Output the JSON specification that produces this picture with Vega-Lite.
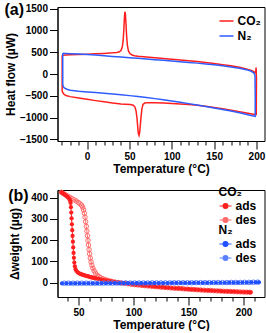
{
  "$schema": "https://vega.github.io/schema/vega-lite/v6.json",
  "padding": {"left": 2.5, "top": 1, "right": 0, "bottom": 0},
  "bounds": "flush",
  "spacing": 49,
  "config": {
    "font": "Liberation Sans",
    "view": {"stroke": "#000", "strokeWidth": 1},
    "axis": {"grid": false, "domainColor": "#000", "tickColor": "#000", "labelColor": "#000", "titleColor": "#000", "labelFontSize": 10, "labelFontWeight": "bold", "titleFontSize": 12, "titleFontWeight": "bold", "labelFlush": false, "labelOverlap": false, "tickWidth": 1, "domainWidth": 1, "labelPadding": 2, "format": "d"},
    "legend": {"labelFontSize": 12, "labelFontWeight": "bold", "titleFontSize": 12, "titleFontWeight": "bold", "labelColor": "#000", "titleColor": "#000", "symbolOpacity": 1}
  },
  "datasets": {
    "dsc": [
      {"gas":"CO₂","i":1,"T":-29.5,"hf":430},{"gas":"CO₂","i":2,"T":-25,"hf":436},{"gas":"CO₂","i":3,"T":-20,"hf":441},{"gas":"CO₂","i":4,"T":-10,"hf":448},{"gas":"CO₂","i":5,"T":0,"hf":455},{"gas":"CO₂","i":6,"T":10,"hf":464},{"gas":"CO₂","i":7,"T":20,"hf":474},{"gas":"CO₂","i":8,"T":30,"hf":486},{"gas":"CO₂","i":9,"T":35,"hf":495},{"gas":"CO₂","i":10,"T":38,"hf":510},{"gas":"CO₂","i":11,"T":40,"hf":540},{"gas":"CO₂","i":12,"T":41.5,"hf":620},{"gas":"CO₂","i":13,"T":42.5,"hf":760},{"gas":"CO₂","i":14,"T":43.3,"hf":1000},{"gas":"CO₂","i":15,"T":44,"hf":1280},{"gas":"CO₂","i":16,"T":44.6,"hf":1430},{"gas":"CO₂","i":17,"T":45.2,"hf":1380},{"gas":"CO₂","i":18,"T":45.9,"hf":1150},{"gas":"CO₂","i":19,"T":46.7,"hf":860},{"gas":"CO₂","i":20,"T":47.6,"hf":650},{"gas":"CO₂","i":21,"T":48.8,"hf":530},{"gas":"CO₂","i":22,"T":50.5,"hf":470},{"gas":"CO₂","i":23,"T":53,"hf":438},{"gas":"CO₂","i":24,"T":56,"hf":420},{"gas":"CO₂","i":25,"T":60,"hf":408},{"gas":"CO₂","i":26,"T":70,"hf":390},{"gas":"CO₂","i":27,"T":80,"hf":372},{"gas":"CO₂","i":28,"T":90,"hf":356},{"gas":"CO₂","i":29,"T":100,"hf":340},{"gas":"CO₂","i":30,"T":110,"hf":324},{"gas":"CO₂","i":31,"T":120,"hf":307},{"gas":"CO₂","i":32,"T":130,"hf":289},{"gas":"CO₂","i":33,"T":140,"hf":265},{"gas":"CO₂","i":34,"T":150,"hf":240},{"gas":"CO₂","i":35,"T":160,"hf":215},{"gas":"CO₂","i":36,"T":170,"hf":187},{"gas":"CO₂","i":37,"T":180,"hf":155},{"gas":"CO₂","i":38,"T":188,"hf":118},{"gas":"CO₂","i":39,"T":194,"hf":82},{"gas":"CO₂","i":40,"T":197.5,"hf":48},{"gas":"CO₂","i":41,"T":199,"hf":25},{"gas":"CO₂","i":42,"T":199.6,"hf":150},{"gas":"CO₂","i":43,"T":200,"hf":-100},{"gas":"CO₂","i":44,"T":199.8,"hf":-930},
      {"gas":"CO₂","i":45,"T":198,"hf":-933},{"gas":"CO₂","i":46,"T":190,"hf":-903},{"gas":"CO₂","i":47,"T":180,"hf":-867},{"gas":"CO₂","i":48,"T":170,"hf":-832},{"gas":"CO₂","i":49,"T":160,"hf":-800},{"gas":"CO₂","i":50,"T":150,"hf":-768},{"gas":"CO₂","i":51,"T":140,"hf":-742},{"gas":"CO₂","i":52,"T":130,"hf":-720},{"gas":"CO₂","i":53,"T":120,"hf":-703},{"gas":"CO₂","i":54,"T":110,"hf":-688},{"gas":"CO₂","i":55,"T":100,"hf":-676},{"gas":"CO₂","i":56,"T":90,"hf":-667},{"gas":"CO₂","i":57,"T":80,"hf":-660},{"gas":"CO₂","i":58,"T":72,"hf":-658},{"gas":"CO₂","i":59,"T":68,"hf":-668},{"gas":"CO₂","i":60,"T":66,"hf":-700},{"gas":"CO₂","i":61,"T":64.8,"hf":-790},{"gas":"CO₂","i":62,"T":63.8,"hf":-960},{"gas":"CO₂","i":63,"T":62.8,"hf":-1180},{"gas":"CO₂","i":64,"T":62,"hf":-1350},{"gas":"CO₂","i":65,"T":61.3,"hf":-1415},{"gas":"CO₂","i":66,"T":60.5,"hf":-1370},{"gas":"CO₂","i":67,"T":59.7,"hf":-1200},{"gas":"CO₂","i":68,"T":58.8,"hf":-1000},{"gas":"CO₂","i":69,"T":57.8,"hf":-850},{"gas":"CO₂","i":70,"T":56.5,"hf":-760},{"gas":"CO₂","i":71,"T":54.5,"hf":-718},{"gas":"CO₂","i":72,"T":51,"hf":-703},{"gas":"CO₂","i":73,"T":45,"hf":-695},{"gas":"CO₂","i":74,"T":40,"hf":-688},{"gas":"CO₂","i":75,"T":30,"hf":-665},{"gas":"CO₂","i":76,"T":20,"hf":-640},{"gas":"CO₂","i":77,"T":10,"hf":-612},{"gas":"CO₂","i":78,"T":0,"hf":-580},{"gas":"CO₂","i":79,"T":-10,"hf":-552},{"gas":"CO₂","i":80,"T":-20,"hf":-520},{"gas":"CO₂","i":81,"T":-25,"hf":-495},{"gas":"CO₂","i":82,"T":-27.5,"hf":-465},{"gas":"CO₂","i":83,"T":-29,"hf":-420},{"gas":"CO₂","i":84,"T":-29.5,"hf":-380},{"gas":"CO₂","i":85,"T":-29.5,"hf":430},
      {"gas":"N₂","i":1,"T":-28.8,"hf":478},{"gas":"N₂","i":2,"T":-25,"hf":474},{"gas":"N₂","i":3,"T":-20,"hf":468},{"gas":"N₂","i":4,"T":-10,"hf":458},{"gas":"N₂","i":5,"T":0,"hf":447},{"gas":"N₂","i":6,"T":10,"hf":434},{"gas":"N₂","i":7,"T":20,"hf":420},{"gas":"N₂","i":8,"T":30,"hf":405},{"gas":"N₂","i":9,"T":40,"hf":390},{"gas":"N₂","i":10,"T":50,"hf":375},{"gas":"N₂","i":11,"T":60,"hf":360},{"gas":"N₂","i":12,"T":70,"hf":345},{"gas":"N₂","i":13,"T":80,"hf":330},{"gas":"N₂","i":14,"T":90,"hf":315},{"gas":"N₂","i":15,"T":100,"hf":300},{"gas":"N₂","i":16,"T":110,"hf":284},{"gas":"N₂","i":17,"T":120,"hf":267},{"gas":"N₂","i":18,"T":130,"hf":250},{"gas":"N₂","i":19,"T":140,"hf":231},{"gas":"N₂","i":20,"T":150,"hf":210},{"gas":"N₂","i":21,"T":160,"hf":188},{"gas":"N₂","i":22,"T":170,"hf":163},{"gas":"N₂","i":23,"T":180,"hf":133},{"gas":"N₂","i":24,"T":188,"hf":100},{"gas":"N₂","i":25,"T":194,"hf":62},{"gas":"N₂","i":26,"T":197,"hf":22},{"gas":"N₂","i":27,"T":198.3,"hf":-30},{"gas":"N₂","i":28,"T":198.6,"hf":-600},{"gas":"N₂","i":29,"T":198.5,"hf":-975},
      {"gas":"N₂","i":30,"T":195,"hf":-960},{"gas":"N₂","i":31,"T":190,"hf":-938},{"gas":"N₂","i":32,"T":180,"hf":-893},{"gas":"N₂","i":33,"T":170,"hf":-852},{"gas":"N₂","i":34,"T":160,"hf":-815},{"gas":"N₂","i":35,"T":150,"hf":-780},{"gas":"N₂","i":36,"T":140,"hf":-746},{"gas":"N₂","i":37,"T":130,"hf":-713},{"gas":"N₂","i":38,"T":120,"hf":-681},{"gas":"N₂","i":39,"T":110,"hf":-650},{"gas":"N₂","i":40,"T":100,"hf":-620},{"gas":"N₂","i":41,"T":90,"hf":-592},{"gas":"N₂","i":42,"T":80,"hf":-566},{"gas":"N₂","i":43,"T":70,"hf":-541},{"gas":"N₂","i":44,"T":60,"hf":-518},{"gas":"N₂","i":45,"T":50,"hf":-497},{"gas":"N₂","i":46,"T":40,"hf":-478},{"gas":"N₂","i":47,"T":30,"hf":-460},{"gas":"N₂","i":48,"T":20,"hf":-444},{"gas":"N₂","i":49,"T":10,"hf":-428},{"gas":"N₂","i":50,"T":0,"hf":-413},{"gas":"N₂","i":51,"T":-10,"hf":-396},{"gas":"N₂","i":52,"T":-20,"hf":-372},{"gas":"N₂","i":53,"T":-24,"hf":-350},{"gas":"N₂","i":54,"T":-27,"hf":-320},{"gas":"N₂","i":55,"T":-28.3,"hf":-285},{"gas":"N₂","i":56,"T":-28.8,"hf":-230},{"gas":"N₂","i":57,"T":-28.8,"hf":478}
    ],
    "tga": [
      {"gas":"CO₂","kind":"ads","T":34.5,"w":425},{"gas":"CO₂","kind":"ads","T":35.5,"w":422},{"gas":"CO₂","kind":"ads","T":36.5,"w":418},{"gas":"CO₂","kind":"ads","T":37.5,"w":414},{"gas":"CO₂","kind":"ads","T":38.5,"w":410},{"gas":"CO₂","kind":"ads","T":39.5,"w":406},{"gas":"CO₂","kind":"ads","T":40.5,"w":401},{"gas":"CO₂","kind":"ads","T":41.5,"w":395},{"gas":"CO₂","kind":"ads","T":42.3,"w":387},{"gas":"CO₂","kind":"ads","T":42.8,"w":375},{"gas":"CO₂","kind":"ads","T":43.1,"w":355},{"gas":"CO₂","kind":"ads","T":43.4,"w":330},{"gas":"CO₂","kind":"ads","T":43.7,"w":303},{"gas":"CO₂","kind":"ads","T":44.0,"w":275},{"gas":"CO₂","kind":"ads","T":44.3,"w":247},{"gas":"CO₂","kind":"ads","T":44.6,"w":220},{"gas":"CO₂","kind":"ads","T":44.9,"w":193},{"gas":"CO₂","kind":"ads","T":45.2,"w":166},{"gas":"CO₂","kind":"ads","T":45.5,"w":140},{"gas":"CO₂","kind":"ads","T":45.8,"w":117},{"gas":"CO₂","kind":"ads","T":46.2,"w":95},{"gas":"CO₂","kind":"ads","T":46.7,"w":77},{"gas":"CO₂","kind":"ads","T":47.3,"w":64},{"gas":"CO₂","kind":"ads","T":48,"w":56},{"gas":"CO₂","kind":"ads","T":49,"w":50},{"gas":"CO₂","kind":"ads","T":50,"w":46},{"gas":"CO₂","kind":"ads","T":51,"w":43},{"gas":"CO₂","kind":"ads","T":52,"w":41},{"gas":"CO₂","kind":"ads","T":53,"w":39},{"gas":"CO₂","kind":"ads","T":54,"w":37},{"gas":"CO₂","kind":"ads","T":55,"w":35.5},{"gas":"CO₂","kind":"ads","T":56,"w":34},{"gas":"CO₂","kind":"ads","T":57,"w":32.5},{"gas":"CO₂","kind":"ads","T":58,"w":31},{"gas":"CO₂","kind":"ads","T":59,"w":29.5},{"gas":"CO₂","kind":"ads","T":60,"w":28},{"gas":"CO₂","kind":"ads","T":61,"w":26.5},{"gas":"CO₂","kind":"ads","T":62,"w":25},{"gas":"CO₂","kind":"ads","T":63,"w":24},{"gas":"CO₂","kind":"ads","T":64,"w":22.5},{"gas":"CO₂","kind":"ads","T":65,"w":21},{"gas":"CO₂","kind":"ads","T":66,"w":20},{"gas":"CO₂","kind":"ads","T":68,"w":18},{"gas":"CO₂","kind":"ads","T":70,"w":15.5},{"gas":"CO₂","kind":"ads","T":72,"w":13.5},{"gas":"CO₂","kind":"ads","T":74,"w":11.5},{"gas":"CO₂","kind":"ads","T":76,"w":9.5},{"gas":"CO₂","kind":"ads","T":78,"w":7.5},{"gas":"CO₂","kind":"ads","T":80,"w":6},{"gas":"CO₂","kind":"ads","T":82,"w":4.5},{"gas":"CO₂","kind":"ads","T":84,"w":3},{"gas":"CO₂","kind":"ads","T":86,"w":1.5},{"gas":"CO₂","kind":"ads","T":88,"w":0},{"gas":"CO₂","kind":"ads","T":90,"w":-1.5},{"gas":"CO₂","kind":"ads","T":93,"w":-3.5},{"gas":"CO₂","kind":"ads","T":96,"w":-5.5},{"gas":"CO₂","kind":"ads","T":99,"w":-7.5},{"gas":"CO₂","kind":"ads","T":102,"w":-9.5},{"gas":"CO₂","kind":"ads","T":105,"w":-11},{"gas":"CO₂","kind":"ads","T":108,"w":-12.5},{"gas":"CO₂","kind":"ads","T":111,"w":-14},{"gas":"CO₂","kind":"ads","T":114,"w":-15.5},{"gas":"CO₂","kind":"ads","T":117,"w":-17},{"gas":"CO₂","kind":"ads","T":120,"w":-18.5},{"gas":"CO₂","kind":"ads","T":123,"w":-20},{"gas":"CO₂","kind":"ads","T":126,"w":-21},{"gas":"CO₂","kind":"ads","T":129,"w":-22.5},{"gas":"CO₂","kind":"ads","T":132,"w":-23.5},{"gas":"CO₂","kind":"ads","T":135,"w":-25},{"gas":"CO₂","kind":"ads","T":138,"w":-26},{"gas":"CO₂","kind":"ads","T":141,"w":-27},{"gas":"CO₂","kind":"ads","T":144,"w":-28},{"gas":"CO₂","kind":"ads","T":147,"w":-29.5},{"gas":"CO₂","kind":"ads","T":150,"w":-30.5},{"gas":"CO₂","kind":"ads","T":153,"w":-31.5},{"gas":"CO₂","kind":"ads","T":156,"w":-32.5},{"gas":"CO₂","kind":"ads","T":159,"w":-33.5},{"gas":"CO₂","kind":"ads","T":162,"w":-34.5},{"gas":"CO₂","kind":"ads","T":165,"w":-35.5},{"gas":"CO₂","kind":"ads","T":168,"w":-36},{"gas":"CO₂","kind":"ads","T":171,"w":-37},{"gas":"CO₂","kind":"ads","T":174,"w":-38},{"gas":"CO₂","kind":"ads","T":177,"w":-38.5},{"gas":"CO₂","kind":"ads","T":180,"w":-39.5},{"gas":"CO₂","kind":"ads","T":183,"w":-40},{"gas":"CO₂","kind":"ads","T":186,"w":-41},{"gas":"CO₂","kind":"ads","T":189,"w":-41.5},{"gas":"CO₂","kind":"ads","T":192,"w":-42},{"gas":"CO₂","kind":"ads","T":195,"w":-43},{"gas":"CO₂","kind":"ads","T":198,"w":-43.5},{"gas":"CO₂","kind":"ads","T":201,"w":-44},{"gas":"CO₂","kind":"ads","T":204,"w":-44.5},{"gas":"CO₂","kind":"ads","T":206.5,"w":-45},
      {"gas":"CO₂","kind":"des","T":34.5,"w":425},{"gas":"CO₂","kind":"des","T":36,"w":420},{"gas":"CO₂","kind":"des","T":38,"w":414},{"gas":"CO₂","kind":"des","T":40,"w":408},{"gas":"CO₂","kind":"des","T":42,"w":402},{"gas":"CO₂","kind":"des","T":44,"w":396},{"gas":"CO₂","kind":"des","T":46,"w":390},{"gas":"CO₂","kind":"des","T":48,"w":384},{"gas":"CO₂","kind":"des","T":50,"w":377},{"gas":"CO₂","kind":"des","T":51.5,"w":371},{"gas":"CO₂","kind":"des","T":52.8,"w":364},{"gas":"CO₂","kind":"des","T":53.8,"w":355},{"gas":"CO₂","kind":"des","T":54.6,"w":343},{"gas":"CO₂","kind":"des","T":55.3,"w":327},{"gas":"CO₂","kind":"des","T":55.9,"w":308},{"gas":"CO₂","kind":"des","T":56.5,"w":287},{"gas":"CO₂","kind":"des","T":57.1,"w":265},{"gas":"CO₂","kind":"des","T":57.6,"w":243},{"gas":"CO₂","kind":"des","T":58.1,"w":221},{"gas":"CO₂","kind":"des","T":58.6,"w":199},{"gas":"CO₂","kind":"des","T":59.1,"w":177},{"gas":"CO₂","kind":"des","T":59.6,"w":156},{"gas":"CO₂","kind":"des","T":60.1,"w":136},{"gas":"CO₂","kind":"des","T":60.7,"w":116},{"gas":"CO₂","kind":"des","T":61.4,"w":98},{"gas":"CO₂","kind":"des","T":62.2,"w":82},{"gas":"CO₂","kind":"des","T":63.1,"w":68},{"gas":"CO₂","kind":"des","T":64.2,"w":56},{"gas":"CO₂","kind":"des","T":65.5,"w":45},{"gas":"CO₂","kind":"des","T":67,"w":36},{"gas":"CO₂","kind":"des","T":68.5,"w":29},{"gas":"CO₂","kind":"des","T":70,"w":24},{"gas":"CO₂","kind":"des","T":72,"w":19},{"gas":"CO₂","kind":"des","T":74,"w":15},{"gas":"CO₂","kind":"des","T":76,"w":12},{"gas":"CO₂","kind":"des","T":78,"w":9},{"gas":"CO₂","kind":"des","T":80,"w":6.5},{"gas":"CO₂","kind":"des","T":83,"w":3.5},{"gas":"CO₂","kind":"des","T":86,"w":1},{"gas":"CO₂","kind":"des","T":89,"w":-1},{"gas":"CO₂","kind":"des","T":92,"w":-3},{"gas":"CO₂","kind":"des","T":95,"w":-5},{"gas":"CO₂","kind":"des","T":98,"w":-7},{"gas":"CO₂","kind":"des","T":101,"w":-9},{"gas":"CO₂","kind":"des","T":104,"w":-10.5},{"gas":"CO₂","kind":"des","T":107,"w":-12},{"gas":"CO₂","kind":"des","T":110,"w":-13.5},{"gas":"CO₂","kind":"des","T":113,"w":-15},{"gas":"CO₂","kind":"des","T":116,"w":-16.5},{"gas":"CO₂","kind":"des","T":119,"w":-18},{"gas":"CO₂","kind":"des","T":122,"w":-19.5},{"gas":"CO₂","kind":"des","T":125,"w":-21},{"gas":"CO₂","kind":"des","T":128,"w":-22},{"gas":"CO₂","kind":"des","T":131,"w":-23},{"gas":"CO₂","kind":"des","T":134,"w":-24.5},{"gas":"CO₂","kind":"des","T":137,"w":-25.5},{"gas":"CO₂","kind":"des","T":140,"w":-26.5},{"gas":"CO₂","kind":"des","T":143,"w":-27.5},{"gas":"CO₂","kind":"des","T":146,"w":-29},{"gas":"CO₂","kind":"des","T":149,"w":-30},{"gas":"CO₂","kind":"des","T":152,"w":-31},{"gas":"CO₂","kind":"des","T":155,"w":-32},{"gas":"CO₂","kind":"des","T":158,"w":-33},{"gas":"CO₂","kind":"des","T":161,"w":-34},{"gas":"CO₂","kind":"des","T":164,"w":-35},{"gas":"CO₂","kind":"des","T":167,"w":-36},{"gas":"CO₂","kind":"des","T":170,"w":-36.5},{"gas":"CO₂","kind":"des","T":173,"w":-37.5},{"gas":"CO₂","kind":"des","T":176,"w":-38.5},{"gas":"CO₂","kind":"des","T":179,"w":-39},{"gas":"CO₂","kind":"des","T":182,"w":-40},{"gas":"CO₂","kind":"des","T":185,"w":-40.5},{"gas":"CO₂","kind":"des","T":188,"w":-41},{"gas":"CO₂","kind":"des","T":191,"w":-42},{"gas":"CO₂","kind":"des","T":194,"w":-42.5},{"gas":"CO₂","kind":"des","T":197,"w":-43},{"gas":"CO₂","kind":"des","T":200,"w":-44},{"gas":"CO₂","kind":"des","T":203,"w":-44.5},{"gas":"CO₂","kind":"des","T":206,"w":-45},
      {"gas":"N₂","kind":"ads","T":35,"w":-3},{"gas":"N₂","kind":"ads","T":39,"w":-3},{"gas":"N₂","kind":"ads","T":43,"w":-3},{"gas":"N₂","kind":"ads","T":47,"w":-3},{"gas":"N₂","kind":"ads","T":51,"w":-3},{"gas":"N₂","kind":"ads","T":55,"w":-3},{"gas":"N₂","kind":"ads","T":59,"w":-3},{"gas":"N₂","kind":"ads","T":63,"w":-3},{"gas":"N₂","kind":"ads","T":67,"w":-3},{"gas":"N₂","kind":"ads","T":71,"w":-2.5},{"gas":"N₂","kind":"ads","T":75,"w":-2.5},{"gas":"N₂","kind":"ads","T":79,"w":-2.5},{"gas":"N₂","kind":"ads","T":83,"w":-2.5},{"gas":"N₂","kind":"ads","T":87,"w":-2.5},{"gas":"N₂","kind":"ads","T":91,"w":-2},{"gas":"N₂","kind":"ads","T":95,"w":-2},{"gas":"N₂","kind":"ads","T":99,"w":-2},{"gas":"N₂","kind":"ads","T":103,"w":-2},{"gas":"N₂","kind":"ads","T":107,"w":-2},{"gas":"N₂","kind":"ads","T":111,"w":-2},{"gas":"N₂","kind":"ads","T":115,"w":-1.5},{"gas":"N₂","kind":"ads","T":119,"w":-1.5},{"gas":"N₂","kind":"ads","T":123,"w":-1.5},{"gas":"N₂","kind":"ads","T":127,"w":-1.5},{"gas":"N₂","kind":"ads","T":131,"w":-1.5},{"gas":"N₂","kind":"ads","T":135,"w":-1},{"gas":"N₂","kind":"ads","T":139,"w":-1},{"gas":"N₂","kind":"ads","T":143,"w":-1},{"gas":"N₂","kind":"ads","T":147,"w":-1},{"gas":"N₂","kind":"ads","T":151,"w":-1},{"gas":"N₂","kind":"ads","T":155,"w":-0.5},{"gas":"N₂","kind":"ads","T":159,"w":-0.5},{"gas":"N₂","kind":"ads","T":163,"w":-0.5},{"gas":"N₂","kind":"ads","T":167,"w":-0.5},{"gas":"N₂","kind":"ads","T":171,"w":0},{"gas":"N₂","kind":"ads","T":175,"w":0},{"gas":"N₂","kind":"ads","T":179,"w":0},{"gas":"N₂","kind":"ads","T":183,"w":0},{"gas":"N₂","kind":"ads","T":187,"w":0.5},{"gas":"N₂","kind":"ads","T":191,"w":0.5},{"gas":"N₂","kind":"ads","T":195,"w":0.5},{"gas":"N₂","kind":"ads","T":199,"w":1},{"gas":"N₂","kind":"ads","T":203,"w":1},{"gas":"N₂","kind":"ads","T":207,"w":1.5},{"gas":"N₂","kind":"ads","T":211,"w":1.5},{"gas":"N₂","kind":"ads","T":214,"w":2},
      {"gas":"N₂","kind":"des","T":37,"w":-2},{"gas":"N₂","kind":"des","T":41,"w":-2},{"gas":"N₂","kind":"des","T":45,"w":-2},{"gas":"N₂","kind":"des","T":49,"w":-2},{"gas":"N₂","kind":"des","T":53,"w":-2},{"gas":"N₂","kind":"des","T":57,"w":-2},{"gas":"N₂","kind":"des","T":61,"w":-2},{"gas":"N₂","kind":"des","T":65,"w":-2},{"gas":"N₂","kind":"des","T":69,"w":-2},{"gas":"N₂","kind":"des","T":73,"w":-1.5},{"gas":"N₂","kind":"des","T":77,"w":-1.5},{"gas":"N₂","kind":"des","T":81,"w":-1.5},{"gas":"N₂","kind":"des","T":85,"w":-1.5},{"gas":"N₂","kind":"des","T":89,"w":-1.5},{"gas":"N₂","kind":"des","T":93,"w":-1},{"gas":"N₂","kind":"des","T":97,"w":-1},{"gas":"N₂","kind":"des","T":101,"w":-1},{"gas":"N₂","kind":"des","T":105,"w":-1},{"gas":"N₂","kind":"des","T":109,"w":-1},{"gas":"N₂","kind":"des","T":113,"w":-1},{"gas":"N₂","kind":"des","T":117,"w":-0.5},{"gas":"N₂","kind":"des","T":121,"w":-0.5},{"gas":"N₂","kind":"des","T":125,"w":-0.5},{"gas":"N₂","kind":"des","T":129,"w":-0.5},{"gas":"N₂","kind":"des","T":133,"w":-0.5},{"gas":"N₂","kind":"des","T":137,"w":0},{"gas":"N₂","kind":"des","T":141,"w":0},{"gas":"N₂","kind":"des","T":145,"w":0},{"gas":"N₂","kind":"des","T":149,"w":0},{"gas":"N₂","kind":"des","T":153,"w":0},{"gas":"N₂","kind":"des","T":157,"w":0.5},{"gas":"N₂","kind":"des","T":161,"w":0.5},{"gas":"N₂","kind":"des","T":165,"w":0.5},{"gas":"N₂","kind":"des","T":169,"w":0.5},{"gas":"N₂","kind":"des","T":173,"w":1},{"gas":"N₂","kind":"des","T":177,"w":1},{"gas":"N₂","kind":"des","T":181,"w":1},{"gas":"N₂","kind":"des","T":185,"w":1},{"gas":"N₂","kind":"des","T":189,"w":1.5},{"gas":"N₂","kind":"des","T":193,"w":1.5},{"gas":"N₂","kind":"des","T":197,"w":1.5},{"gas":"N₂","kind":"des","T":201,"w":2},{"gas":"N₂","kind":"des","T":205,"w":2},{"gas":"N₂","kind":"des","T":209,"w":2.5},{"gas":"N₂","kind":"des","T":213,"w":3}
    ]
  },
  "vconcat": [
    {
      "width": 207,
      "height": 134,
      "data": {"name": "dsc"},
      "layer": [
        {
          "transform": [{"filter": "datum.gas === 'CO₂'"}],
          "mark": {"type": "line", "strokeWidth": 1.5},
          "encoding": {
            "x": {"field": "T", "type": "quantitative", "scale": {"domain": [-35, 209.5], "nice": false, "zero": false}, "axis": {"values": [0, 50, 100, 150, 200], "tickSize": 8, "title": "Temperature (°C)", "titlePadding": 2, "orient": "bottom"}},
            "y": {"field": "hf", "type": "quantitative", "scale": {"domain": [-1540, 1540], "nice": false, "zero": false}, "axis": {"values": [-1500, -1000, -500, 0, 500, 1000, 1500], "tickSize": 8, "title": "Heat flow (µW)", "titleX": -47.5, "titleBaseline": "middle"}},
            "color": {"field": "gas", "type": "nominal", "scale": {"domain": ["CO₂", "N₂"], "range": ["#ff1f1f", "#2e5cff"]}, "legend": {"title": null, "orient": "none", "legendX": 161, "legendY": 6, "padding": 0, "symbolType": "stroke", "symbolSize": 196, "symbolStrokeWidth": 1.5, "rowPadding": 1, "labelOffset": 3}},
            "order": {"field": "i", "type": "quantitative"}
          }
        },
        {
          "transform": [{"filter": "datum.gas === 'N₂'"}],
          "mark": {"type": "line", "strokeWidth": 1.5},
          "encoding": {
            "x": {"field": "T", "type": "quantitative", "scale": {"domain": [-35, 209.5], "nice": false, "zero": false}, "axis": {"values": [-30, -20, -10, 10, 20, 30, 40, 60, 70, 80, 90, 110, 120, 130, 140, 160, 170, 180, 190], "tickSize": 4, "labels": false, "domain": false, "title": null, "orient": "bottom"}},
            "y": {"field": "hf", "type": "quantitative", "scale": {"domain": [-1540, 1540], "nice": false, "zero": false}, "axis": {"values": [-1500, -1000, -500, 0, 500, 1000, 1500], "tickSize": 8, "title": "Heat flow (µW)", "titleX": -47.5, "titleBaseline": "middle"}},
            "color": {"field": "gas", "type": "nominal", "scale": {"domain": ["CO₂", "N₂"], "range": ["#ff1f1f", "#2e5cff"]}, "legend": {"title": null, "orient": "none", "legendX": 161, "legendY": 6, "padding": 0, "symbolType": "stroke", "symbolSize": 196, "symbolStrokeWidth": 1.5, "rowPadding": 1, "labelOffset": 3}},
            "order": {"field": "i", "type": "quantitative"}
          }
        },
        {
          "data": {"values": [{"label": "(a)"}]},
          "mark": {"type": "text", "fontSize": 16, "fontWeight": "bold", "align": "left", "baseline": "alphabetic", "fill": "#000"},
          "encoding": {
            "x": {"datum": -97.6, "type": "quantitative", "axis": null},
            "y": {"datum": 1356, "type": "quantitative", "axis": {"values": [-1500, -1000, -500, 0, 500, 1000, 1500], "tickSize": 8, "title": "Heat flow (µW)", "titleX": -47.5, "titleBaseline": "middle"}},
            "text": {"field": "label"}
          }
        }
      ],
      "resolve": {"axis": {"x": "independent"}}
    },
    {
      "width": 207,
      "height": 107,
      "data": {"name": "tga"},
      "layer": [
        {
          "transform": [{"filter": "datum.gas === 'CO₂'"}],
          "encoding": {
            "x": {"field": "T", "type": "quantitative", "scale": {"domain": [30.9, 219.1], "nice": false, "zero": false}, "axis": {"values": [50, 100, 150, 200], "tickSize": 8, "title": "Temperature (°C)", "titlePadding": 2, "orient": "bottom"}},
            "y": {"field": "w", "type": "quantitative", "scale": {"domain": [-67, 436], "nice": false, "zero": false}, "axis": {"values": [0, 100, 200, 300, 400], "tickSize": 8, "title": "Δweight (µg)", "titleX": -43.5, "titleBaseline": "middle"}},
            "color": {
              "field": "kind", "type": "nominal",
              "scale": {"domain": ["ads", "des"], "range": ["#ff1f1f", "#ff6a6a"]},
              "legend": {
                "title": "CO₂", "orient": "none", "legendX": 161, "legendY": -3, "padding": 0,
                "symbolType": "M-1,0L-0.4,0M0.4,0L1,0M0.4,0A0.4,0.4,0,1,1,-0.4,0A0.4,0.4,0,1,1,0.4,0Z",
                "symbolSize": 144, "symbolStrokeWidth": 1.2, "rowPadding": 1, "titlePadding": 0, "labelOffset": 3,
                "encode": {
                  "symbols": {
                    "update": {
                      "fill": {"signal": "datum.value === 'ads' ? '#ff1f1f' : '#ffffff'"},
                      "stroke": {"signal": "datum.value === 'ads' ? '#ff1f1f' : '#ff6a6a'"},
                      "opacity": {"value": 1}
                    }
                  }
                }
              }
            }
          },
          "layer": [
            {"mark": {"type": "line", "strokeWidth": 1}, "encoding": {"detail": {"field": "kind"}}},
            {"transform": [{"filter": "datum.kind === 'des'"}], "mark": {"type": "point", "filled": false, "size": 20, "strokeWidth": 1, "opacity": 1}},
            {"transform": [{"filter": "datum.kind === 'ads'"}], "mark": {"type": "point", "filled": true, "size": 18, "opacity": 1}}
          ]
        },
        {
          "transform": [{"filter": "datum.gas === 'N₂'"}],
          "encoding": {
            "x": {"field": "T", "type": "quantitative", "scale": {"domain": [30.9, 219.1], "nice": false, "zero": false}, "axis": {"values": [40, 60, 70, 80, 90, 110, 120, 130, 140, 160, 170, 180, 190, 210], "tickSize": 4, "labels": false, "domain": false, "title": null, "orient": "bottom"}},
            "y": {"field": "w", "type": "quantitative", "scale": {"domain": [-67, 436], "nice": false, "zero": false}, "axis": {"values": [0, 100, 200, 300, 400], "tickSize": 8, "title": "Δweight (µg)", "titleX": -43.5, "titleBaseline": "middle"}},
            "color": {
              "field": "kind", "type": "nominal",
              "scale": {"domain": ["ads", "des"], "range": ["#2050ff", "#5a80ff"]},
              "legend": {
                "title": "N₂", "orient": "none", "legendX": 161, "legendY": 35, "padding": 0,
                "symbolType": "M-1,0L-0.4,0M0.4,0L1,0M0.4,0A0.4,0.4,0,1,1,-0.4,0A0.4,0.4,0,1,1,0.4,0Z",
                "symbolSize": 144, "symbolStrokeWidth": 1.2, "rowPadding": 1, "titlePadding": 0, "labelOffset": 3,
                "encode": {
                  "symbols": {
                    "update": {
                      "fill": {"signal": "datum.value === 'ads' ? '#2050ff' : '#ffffff'"},
                      "stroke": {"signal": "datum.value === 'ads' ? '#2050ff' : '#5a80ff'"},
                      "opacity": {"value": 1}
                    }
                  }
                }
              }
            }
          },
          "layer": [
            {"mark": {"type": "line", "strokeWidth": 1}, "encoding": {"detail": {"field": "kind"}}},
            {"transform": [{"filter": "datum.kind === 'des'"}], "mark": {"type": "point", "filled": false, "size": 20, "strokeWidth": 1, "opacity": 1}},
            {"transform": [{"filter": "datum.kind === 'ads'"}], "mark": {"type": "point", "filled": true, "size": 18, "opacity": 1}}
          ]
        },
        {
          "data": {"values": [{"label": "(b)"}]},
          "mark": {"type": "text", "fontSize": 16, "fontWeight": "bold", "align": "left", "baseline": "alphabetic", "fill": "#000"},
          "encoding": {
            "x": {"datum": -13.9, "type": "quantitative", "axis": null},
            "y": {"datum": 384, "type": "quantitative", "axis": {"values": [0, 100, 200, 300, 400], "tickSize": 8, "title": "Δweight (µg)", "titleX": -43.5, "titleBaseline": "middle"}},
            "text": {"field": "label"}
          }
        }
      ],
      "resolve": {"scale": {"color": "independent"}, "axis": {"x": "independent"}}
    }
  ]
}
